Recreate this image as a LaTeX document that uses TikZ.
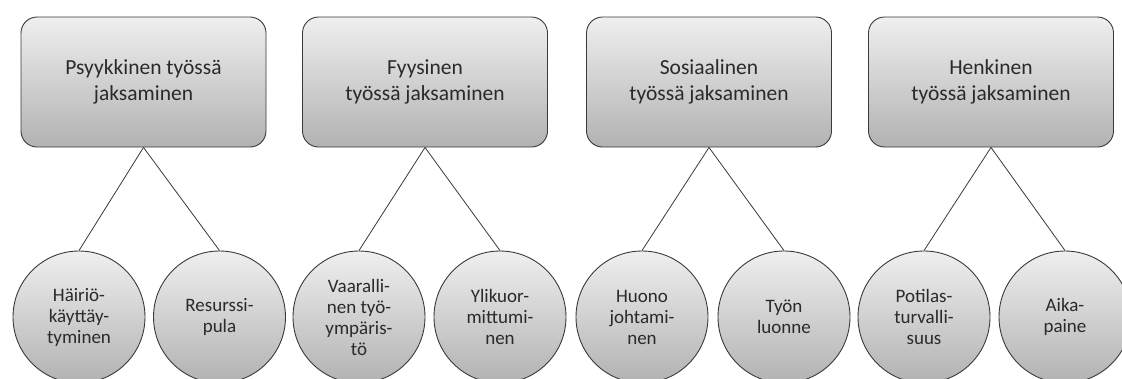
\documentclass[tikz,border=0pt]{standalone}
\usepackage{fontspec}
\setmainfont{Carlito}
\usetikzlibrary{shadings}
\definecolor{gtop}{HTML}{EFEFEF}
\definecolor{gbot}{HTML}{B2B2B2}
\definecolor{edge}{HTML}{3A3A3A}
\definecolor{txt}{HTML}{2A2A2A}
\tikzset{
  topbox/.style={draw=edge, line width=0.9pt, rounded corners=16pt, top color=gtop, bottom color=gbot,
    minimum width=245pt, minimum height=130pt, align=center, font=\fontsize{21.5}{26}\selectfont, text=txt, inner sep=0pt},
  subcirc/.style={draw=edge, line width=0.9pt, circle, top color=gtop, bottom color=gbot,
    minimum size=132pt, align=center, font=\fontsize{19}{21}\selectfont, text=txt, inner sep=0pt},
  link/.style={draw=edge, line width=0.8pt}
}
\begin{document}
\begin{tikzpicture}[x=1pt,y=-1pt]
\useasboundingbox (0,0) rectangle (1122,378);
\clip (0,0) rectangle (1122,378);
\fill[white] (0,0) rectangle (1122,378);
% top boxes
\node[topbox] (b1) at (143.5,82) {Psyykkinen työssä\\jaksaminen};
\node[topbox] (b2) at (425,82) {Fyysinen\\työssä jaksaminen};
\node[topbox] (b3) at (709,82) {Sosiaalinen\\työssä jaksaminen};
\node[topbox] (b4) at (991,82) {Henkinen\\työssä jaksaminen};
% circles
\node[subcirc] (c1) at (79,317) {Häiriö-\\käyttäy-\\tyminen};
\node[subcirc] (c2) at (219.5,317) {Resurssi-\\pula};
\node[subcirc] (c3) at (359,317) {Vaaralli-\\nen työ-\\ympäris-\\tö};
\node[subcirc] (c4) at (500,317) {Ylikuor-\\mittumi-\\nen};
\node[subcirc] (c5) at (642,317) {Huono\\johtami-\\nen};
\node[subcirc] (c6) at (784,317) {Työn\\luonne};
\node[subcirc] (c7) at (924,317) {Potilas-\\turvalli-\\suus};
\node[subcirc] (c8) at (1065,317) {Aika-\\paine};
% connectors
\draw[link] (b1.south) -- (c1.north);
\draw[link] (b1.south) -- (c2.north);
\draw[link] (b2.south) -- (c3.north);
\draw[link] (b2.south) -- (c4.north);
\draw[link] (b3.south) -- (c5.north);
\draw[link] (b3.south) -- (c6.north);
\draw[link] (b4.south) -- (c7.north);
\draw[link] (b4.south) -- (c8.north);
\end{tikzpicture}
\end{document}
